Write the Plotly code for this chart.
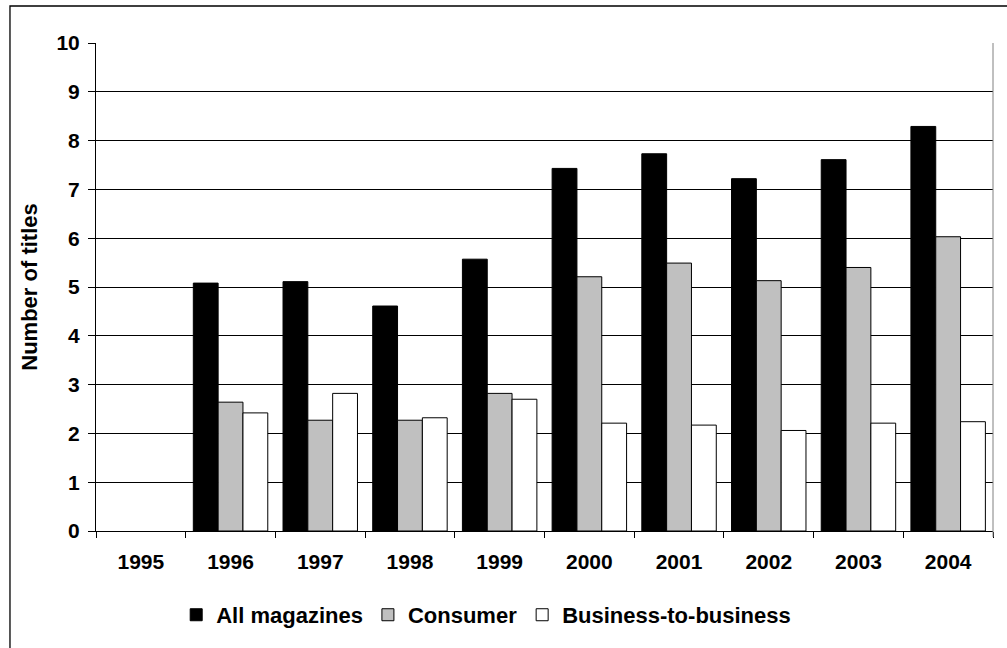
import plotly.graph_objects as go

# Magazine launches per year, by sector
years = ["1995", "1996", "1997", "1998", "1999", "2000", "2001", "2002", "2003", "2004"]
all_magazines = [None, 5.08, 5.11, 4.61, 5.57, 7.43, 7.73, 7.22, 7.61, 8.29]
consumer = [None, 2.64, 2.27, 2.27, 2.82, 5.21, 5.49, 5.13, 5.40, 6.03]
business_to_business = [None, 2.42, 2.82, 2.32, 2.70, 2.21, 2.17, 2.06, 2.21, 2.24]

series = [
    ("All magazines", all_magazines, "#000000"),
    ("Consumer", consumer, "#C0C0C0"),
    ("Business-to-business", business_to_business, "#FFFFFF"),
]

FONT = "Liberation Sans, Arial, sans-serif"

fig = go.Figure()
for name, values, color in series:
    fig.add_trace(go.Bar(
        x=years,
        y=values,
        name=name,
        marker=dict(color=color, line=dict(color="#000000", width=1)),
    ))

fig.update_layout(
    width=1007,
    height=648,
    margin=dict(l=96, r=14, t=43, b=117),
    paper_bgcolor="white",
    plot_bgcolor="white",
    barmode="group",
    bargap=0.17,
    bargroupgap=0,
    font=dict(family=FONT, size=21, color="black", weight="bold"),
    showlegend=True,
    legend=dict(
        orientation="h",
        x=0.435,
        xanchor="center",
        y=-0.172,
        yanchor="middle",
        font=dict(family=FONT, size=22, color="black", weight="bold"),
        itemwidth=30,
        traceorder="normal",
    ),
    xaxis=dict(
        type="category",
        showline=True,
        linecolor="black",
        linewidth=1,
        ticks="outside",
        tickson="boundaries",
        ticklen=6,
        tickcolor="black",
        tickwidth=1,
        showgrid=False,
        ticklabelstandoff=12,
        tickfont=dict(family=FONT, size=21, color="black", weight="bold"),
    ),
    yaxis=dict(
        range=[0, 10],
        dtick=1,
        showline=True,
        linecolor="black",
        linewidth=1,
        ticks="outside",
        ticklen=7,
        tickcolor="black",
        tickwidth=1,
        showgrid=True,
        gridcolor="black",
        gridwidth=1,
        zeroline=False,
        ticklabelstandoff=4,
        tickfont=dict(family=FONT, size=21, color="black", weight="bold"),
        title=dict(
            text="Number of titles",
            font=dict(family=FONT, size=22, color="black", weight="bold"),
            standoff=12,
        ),
    ),
    shapes=[
        # right edge of the plot area
        dict(type="line", xref="paper", yref="paper", x0=1, x1=1, y0=-0.012, y1=1,
             line=dict(color="#808080", width=1)),
        # chart-area frame
        dict(type="rect", xref="paper", yref="paper", x0=-0.0959, x1=1.05, y0=-0.4, y1=1.0758,
             line=dict(color="black", width=1.3), fillcolor="rgba(0,0,0,0)"),
    ],
)

fig.write_html("out.html")
